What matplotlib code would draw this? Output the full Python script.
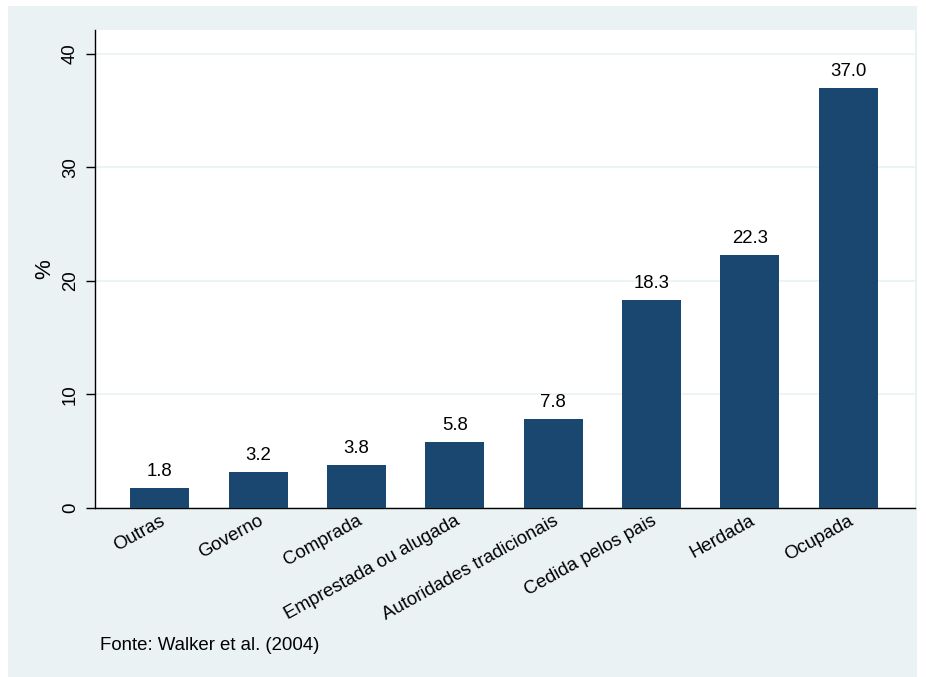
import matplotlib
matplotlib.use("Agg")
import matplotlib.pyplot as plt

categories = ["Outras", "Governo", "Comprada", "Emprestada ou alugada",
              "Autoridades tradicionais", "Cedida pelos pais", "Herdada", "Ocupada"]
values = [1.8, 3.2, 3.8, 5.8, 7.8, 18.3, 22.3, 37.0]
yticks = [0, 10, 20, 30, 40]

plt.rcParams['font.family'] = ['Liberation Sans', 'DejaVu Sans']

W, H = 926, 677
fig = plt.figure(figsize=(W / 100, H / 100), dpi=100)
fig.patch.set_facecolor("white")
bg = plt.Rectangle((8 / W, 1 - 677 / H), (917 - 8) / W, (677 - 6) / H,
                   transform=fig.transFigure, facecolor="#EAF2F3", edgecolor="none", zorder=-10)
fig.patches.append(bg)

left, right, top, bottom = 95, 915, 30, 508
ax = fig.add_axes([left / W, 1 - bottom / H, (right - left) / W, (bottom - top) / H])
ax.set_facecolor("white")

x = list(range(len(categories)))
bars = ax.bar(x, values, width=0.6, color="#1A476F", zorder=3)
for xi, v in zip(x, values):
    ax.text(xi, v + 0.7, f"{v:.1f}", ha="center", va="bottom", fontsize=13.4, color="black")

ax.set_xlim(-0.66, 7.68)
ax.set_ylim(0, 42.1)
ax.set_yticks(yticks)
ax.set_yticklabels([str(t) for t in yticks], rotation=90, va="center", fontsize=13.4)
ax.yaxis.grid(True, color="#EAF2F3", linewidth=1.2, zorder=0)
ax.set_axisbelow(True)

ax.set_xticks(x)
ax.set_xticklabels(categories, rotation=29, ha="right", rotation_mode="anchor", fontsize=13.4)
ax.tick_params(axis="x", length=0, pad=3)
ax.tick_params(axis="y", length=6.5, width=1, pad=5)

for s in ["top", "right"]:
    ax.spines[s].set_visible(False)
ax.spines["left"].set_linewidth(1)
ax.spines["bottom"].set_linewidth(1)

ax.set_ylabel("%", fontsize=16, labelpad=5)

fig.text(100 / W, 1 - 646 / H, "Fonte: Walker et al. (2004)", fontsize=13.4, va="center", ha="left")

fig.savefig("out.png", dpi=100, facecolor=fig.get_facecolor())
